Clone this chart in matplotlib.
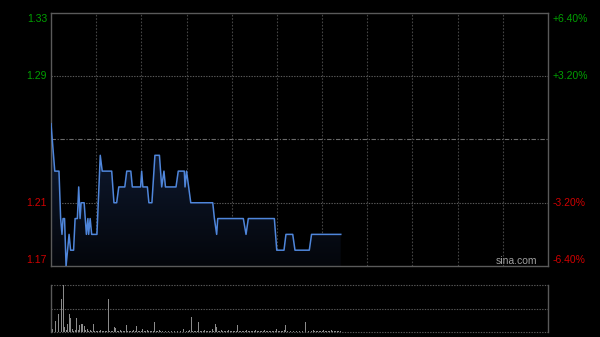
import matplotlib
matplotlib.use('Agg')
import matplotlib.pyplot as plt
import numpy as np
from matplotlib.colors import LinearSegmentedColormap
from matplotlib.patches import Polygon

# ---------------- data ----------------
price_minutes = [0, 2.5, 5.3, 6.4, 7.3, 8, 9, 10, 12, 13, 15, 16, 17.5, 18.4, 19.3, 20, 22,
                 23.5, 24.5, 25, 26, 27, 30.5, 32.7, 34, 40.3, 41.8, 43.6, 45, 49, 50.3, 53,
                 54, 59.5, 60.2, 61, 64, 65, 67, 69, 72, 73.5, 75, 76, 83, 84.5, 88.5, 89, 90,
                 92.8, 107.4, 108.5, 110, 110.7, 127.7, 129.5, 131, 148.3, 149.9, 154.7, 156,
                 160.5, 162, 171.5, 173, 192.4]
prices = [1.26, 1.23, 1.23, 1.20, 1.19, 1.20, 1.20, 1.17, 1.19, 1.18, 1.18, 1.20, 1.20, 1.22,
          1.20, 1.21, 1.21, 1.19, 1.20, 1.19, 1.20, 1.19, 1.19, 1.24, 1.23, 1.23, 1.21, 1.21,
          1.22, 1.22, 1.23, 1.23, 1.22, 1.22, 1.23, 1.22, 1.22, 1.21, 1.21, 1.24, 1.24, 1.22,
          1.23, 1.22, 1.22, 1.23, 1.23, 1.22, 1.23, 1.21, 1.21, 1.20, 1.19, 1.20, 1.20, 1.19,
          1.20, 1.20, 1.18, 1.18, 1.19, 1.19, 1.18, 1.18, 1.19, 1.19]
prev_close = 1.25
price_ticks = [1.17, 1.21, 1.25, 1.29, 1.33]
left_labels = ['1.17', '1.21', '', '1.29', '1.33']
right_labels = ['-6.40%', '-3.20%', '', '+3.20%', '+6.40%']
label_colors = ['#d00000', '#d00000', '#888888', '#00a000', '#00a000']

volumes = [1, 3, 1, 11, 5, 18, 2, 33, 47, 5,
           2, 8, 18, 14, 3, 1, 2, 14, 2, 7,
           8, 8, 6, 2, 3, 1, 2, 1, 8, 1,
           1, 1, 1, 2, 1, 1, 1, 1, 33, 1,
           1, 1, 5, 4, 1, 1, 2, 1, 1, 1,
           7, 1, 1, 1, 1, 2, 1, 6, 1, 1,
           1, 3, 1, 1, 2, 1, 1, 1, 1, 10,
           1, 1, 2, 1, 1, 5, 1, 1, 1, 1,
           1, 2, 1, 1, 1, 1, 1, 2, 3, 1,
           1, 1, 2, 15, 1, 1, 1, 1, 10, 1,
           1, 1, 2, 1, 1, 1, 1, 3, 1, 8,
           5, 1, 1, 2, 1, 1, 1, 1, 2, 1,
           1, 1, 1, 1, 7, 1, 1, 1, 1, 1,
           2, 1, 1, 1, 1, 1, 2, 1, 1, 1,
           1, 1, 2, 1, 1, 1, 1, 1, 1, 1,
           3, 1, 1, 1, 1, 2, 7, 1, 1, 1,
           1, 1, 3, 1, 1, 1, 1, 1, 2, 10,
           1, 1, 1, 1, 2, 1, 1, 1, 1, 1,
           1, 2, 1, 1, 1, 1, 2, 1, 1, 1,
           1, 1, 1]
total_minutes = 330
grid_minutes = list(range(30, 330, 30))

# ---------------- figure ----------------
plt.rcParams['font.family'] = ['Liberation Sans', 'DejaVu Sans']
W, H = 600, 337
fig = plt.figure(figsize=(W / 100, H / 100), dpi=100, facecolor='black')

ax = fig.add_axes([51 / W, 71 / H, 497 / W, 253 / H])
ax.set_facecolor('black')
ax.set_xlim(0, total_minutes)
ax.set_ylim(price_ticks[0], price_ticks[-1])
ax.set_xticks([])
ax.set_yticks([])
for s in ax.spines.values():
    s.set_color('#5a5a5a')
    s.set_linewidth(1.0)

for gm in grid_minutes:
    ax.axvline(gm, color='#444444', lw=0.8, ls=(0, (1.5, 1.5)), zorder=1)
for t in price_ticks[1:-1]:
    if t == prev_close:
        ax.axhline(t, color='#6a6a6a', lw=0.8, ls=(0, (4, 1.5, 1, 1.5)), zorder=1)
    else:
        ax.axhline(t, color='#5a5a5a', lw=0.8, ls=(0, (1.2, 1.2)), zorder=1)

# gradient fill under price line
xs = np.array(price_minutes, dtype=float)
ys = np.array(prices, dtype=float)
poly_pts = np.vstack([np.column_stack([xs, ys]),
                      [[xs[-1], price_ticks[0]], [xs[0], price_ticks[0]]]])
poly = Polygon(poly_pts, closed=True, facecolor='none', edgecolor='none')
ax.add_patch(poly)
cmap = LinearSegmentedColormap.from_list('fillg', ['#04060b', '#101d36'])
grad = np.linspace(0, 1, 256).reshape(-1, 1)
im = ax.imshow(grad, cmap=cmap, aspect='auto', origin='lower',
               extent=[xs[0], xs[-1], price_ticks[0], max(prices)], zorder=2)
im.set_clip_path(poly)

ax.plot(xs, ys, color='#4f86db', lw=1.1, zorder=3, solid_joinstyle='round')

# tick labels
for t, ll, rl, c in zip(price_ticks, left_labels, right_labels, label_colors):
    dy = 0
    if t == price_ticks[-1]:
        dy = -4.3
    elif t == price_ticks[0]:
        dy = 4.3
    if ll:
        ax.annotate(ll, xy=(0, t), xycoords=('axes fraction', 'data'),
                    xytext=(-2.9, dy), textcoords='offset points',
                    ha='right', va='center', color=c, fontsize=7.5, annotation_clip=False)
    if rl:
        ax.annotate(rl, xy=(1, t), xycoords=('axes fraction', 'data'),
                    xytext=(3.6, dy), textcoords='offset points',
                    ha='left', va='center', color=c, fontsize=7.5, annotation_clip=False)

ax.text(486 / 497, 5 / 253, 'sina.com', transform=ax.transAxes, ha='right', va='center',
        color='#a0a0a0', fontsize=7.5, zorder=4)

# ---------------- volume ----------------
vax = fig.add_axes([51 / W, 5 / H, 497 / W, 47 / H])
vax.set_facecolor('black')
vax.set_xlim(0, total_minutes)
vmax = max(volumes)
vax.set_ylim(0, vmax)
vax.set_xticks([])
vax.set_yticks([])
for k in ['top', 'bottom']:
    vax.spines[k].set_visible(False)
for k in ['left', 'right']:
    vax.spines[k].set_color('#5a5a5a')
    vax.spines[k].set_linewidth(1.0)
for yy in [0, vmax / 2, vmax]:
    vax.axhline(yy, color='#5a5a5a', lw=0.8, ls=(0, (1.2, 1.2)), zorder=1, clip_on=False)
vax.bar(np.arange(len(volumes)), volumes, width=0.6, color='#8a8a8a', zorder=2, linewidth=0)

fig.savefig('out.png', dpi=100, facecolor='black')
